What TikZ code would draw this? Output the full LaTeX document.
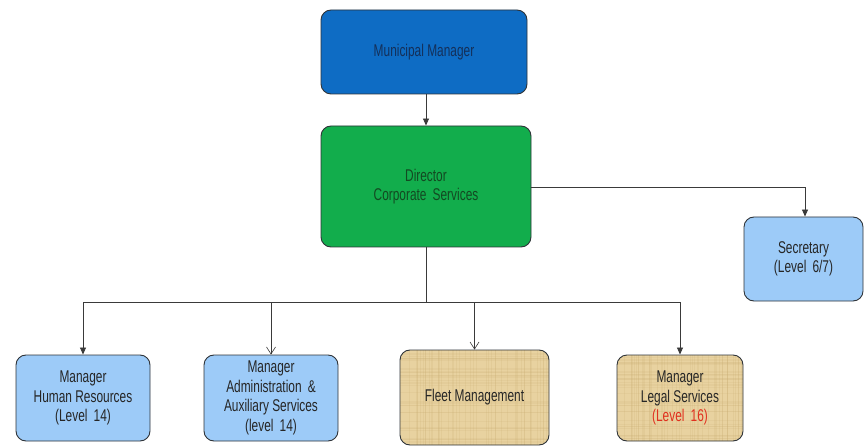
\documentclass[tikz,border=0pt]{standalone}
\usepackage{fontspec}
\setmainfont{Liberation Sans}[FakeStretch=0.7]
\usetikzlibrary{arrows.meta,calc}
\definecolor{mmblue}{HTML}{0E6CC4}
\definecolor{mmtext}{HTML}{14305A}
\definecolor{dirgreen}{HTML}{12AD4C}
\definecolor{dirtext}{HTML}{124A22}
\definecolor{lightblue}{HTML}{9DCBF8}
\definecolor{papyrus}{HTML}{E8D2A0}
\definecolor{fibre}{HTML}{C9AE72}
\definecolor{boxline}{HTML}{2E3338}
\definecolor{wire}{HTML}{3A3A3A}
\definecolor{levelred}{HTML}{E0301E}
\newcommand{\wsp}{\hspace{0.36em}}
\tikzset{
  orgbox/.style={draw=boxline, line width=0.9pt, rounded corners=10pt,
    align=center, inner sep=0pt, font=\fontsize{17}{19.5}\selectfont},
  bluebox/.style={orgbox, fill=lightblue, text=black!85},
  papyrusgrain/.style={path picture={
    \pgfmathsetseed{7}
    \foreach \k in {1,...,45}{
      \pgfmathsetmacro{\px}{rnd}
      \draw[fibre, opacity=0.18, line width=0.4pt]
        ($(path picture bounding box.south west)!\px!(path picture bounding box.south east)$)
        -- ($(path picture bounding box.north west)!\px!(path picture bounding box.north east)$);
    }
    \foreach \k in {1,...,40}{
      \pgfmathsetmacro{\py}{rnd}
      \draw[fibre, opacity=0.15, line width=0.4pt]
        ($(path picture bounding box.south west)!\py!(path picture bounding box.north west)$)
        -- ($(path picture bounding box.south east)!\py!(path picture bounding box.north east)$);
    }}},
  tanbox/.style={orgbox, fill=papyrus, text=black!85, papyrusgrain},
  wireline/.style={draw=wire, line width=0.8pt},
  filledtip/.style={wireline, -{Triangle[length=7pt, width=6pt]}},
  opentip/.style={wireline, -{Straight Barb[length=7pt, width=9pt, line width=0.6pt]}},
}
\begin{document}
\begin{tikzpicture}[x=1pt, y=-1pt]
\useasboundingbox (0,0) rectangle (867,446);

% top levels
\node[orgbox, fill=mmblue, text=mmtext, minimum width=206pt, minimum height=84pt]
  (mm) at (424,52) {Municipal Manager};
\node[orgbox, fill=dirgreen, text=dirtext, minimum width=210pt, minimum height=121pt]
  (dir) at (426,186.5) {Director\\Corporate\wsp Services};
\node[bluebox, minimum width=119pt, minimum height=84pt]
  (sec) at (803.5,259) {Secretary\\(Level\wsp 6/7)};

% managers
\node[bluebox, minimum width=134pt, minimum height=86pt]
  (hr) at (83,398) {Manager\\Human Resources\\(Level\wsp 14)};
\node[bluebox, minimum width=134pt, minimum height=86pt]
  (adm) at (271,398) {Manager\\Administration\wsp\&\\Auxiliary Services\\(level\wsp 14)};
\node[tanbox, minimum width=149pt, minimum height=95pt]
  (fleet) at (474.5,397.5) {Fleet Management};
\node[tanbox, minimum width=126pt, minimum height=86pt]
  (legal) at (680,398) {Manager\\Legal Services\\\textcolor{levelred}{(Level\wsp 16)}};

% connectors
\coordinate (bus) at (426,302);
\coordinate (busL) at (83,302);
\coordinate (busR) at (680,302);
\coordinate (secturn) at (805,187);

\draw[filledtip] (mm.south -| dir.north) -- (dir.north);
\draw[filledtip] (dir.east |- secturn) -- (secturn) -- (sec.north -| secturn);
\draw[wireline] (dir.south) -- (bus);
\draw[wireline] (busL) -- (busR);
\draw[filledtip] (busL) -- (hr.north);
\draw[opentip] (adm.north |- bus) -- (adm.north);
\draw[opentip] (fleet.north |- bus) -- (fleet.north);
\draw[filledtip] (busR) -- (legal.north);
\end{tikzpicture}
\end{document}
